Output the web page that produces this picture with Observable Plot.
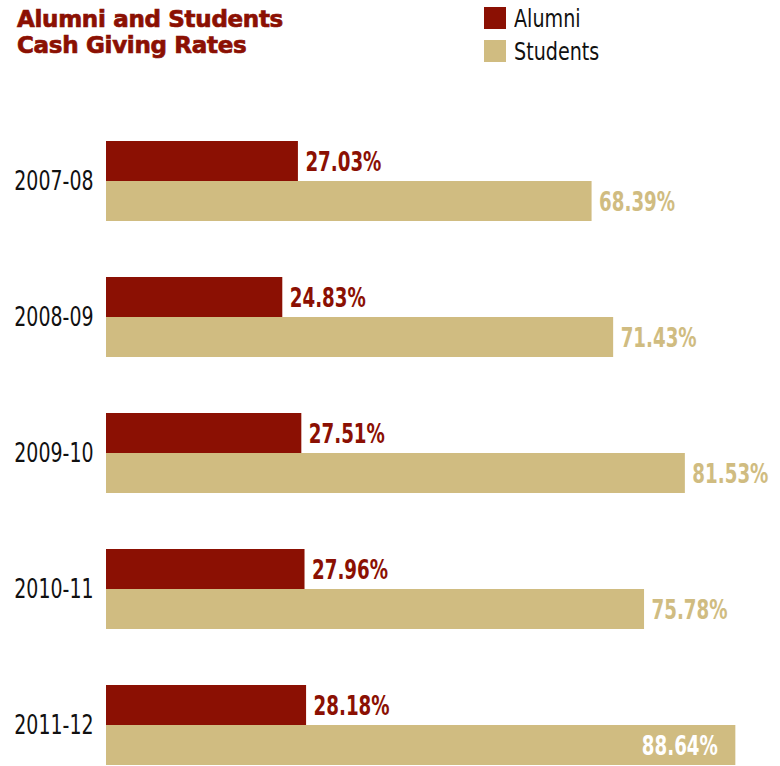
<!DOCTYPE html>
<html>
<head>
<meta charset="utf-8">
<script src="https://cdn.jsdelivr.net/npm/d3@7"></script>
<script src="https://cdn.jsdelivr.net/npm/@observablehq/plot@0.6"></script>
<style>
  body { margin: 0; background: #fff; }
  #wrap { position: relative; width: 780px; height: 766px; overflow: hidden; }
  #title { position: absolute; left: 17px; top: 6px; font-family: "DejaVu Sans", sans-serif; font-weight: bold; font-size: 23px; line-height: 26px; color: #8B1003; -webkit-text-stroke: 0.7px #8B1003; letter-spacing: -0.3px; }
  #legend { position: absolute; left: 484px; top: 7px; font-family: "DejaVu Sans Condensed", sans-serif; font-size: 25px; color: #111; }
  .item { display: flex; align-items: center; height: 22px; margin-bottom: 11px; }
  .sw { width: 22px; height: 22px; margin-right: 8px; flex: none; }
  .item span { display: inline-block; transform: scaleX(0.85); transform-origin: left center; }
  #chart { position: absolute; left: 0; top: 0; }
</style>
</head>
<body>
<div id="wrap">
  <div id="chart"></div>
  <div id="title">Alumni and Students<br>Cash Giving Rates</div>
  <div id="legend"></div>
</div>
<script>
const years = ["2007-08", "2008-09", "2009-10", "2010-11", "2011-12"];
const series = ["Alumni", "Students"];
const alumni = [27.03, 24.83, 27.51, 27.96, 28.18];
const students = [68.39, 71.43, 81.53, 75.78, 88.64];
const colors = ["#8B1003", "#D0BC81"];

const data = [];
years.forEach((y, i) => {
  data.push({year: y, series: "Alumni", value: alumni[i]});
  data.push({year: y, series: "Students", value: students[i]});
});

const labelColor = d => d.series === "Alumni" ? colors[0] : colors[1];
const inside = d => d.value > 85;
const fmt = d => d.value.toFixed(2) + "%";
const narrow = "DejaVu Sans Condensed, sans-serif";

const chart = Plot.plot({
  width: 780,
  height: 766,
  marginTop: 140,
  marginBottom: 0,
  marginLeft: 106,
  marginRight: 0,
  style: {fontFamily: narrow, background: "transparent"},
  x: {domain: [0, 100], range: [106, 106 + 710], axis: null},
  y: {domain: series, padding: 0, axis: null},
  fy: {domain: years, paddingInner: 0.414, paddingOuter: 0, label: null},
  color: {domain: series, range: colors},
  marks: [
    Plot.barX(data, {fy: "year", y: "series", x: "value", fill: "series"}),
    Plot.text(data.filter(d => !inside(d)), {
      fy: "year", y: "series", x: "value", text: fmt,
      textAnchor: "start", dx: 7, dy: 1, fill: labelColor,
      fontSize: 26, fontWeight: "bold"
    }),
    Plot.text(data.filter(inside), {
      fy: "year", y: "series", x: "value", text: fmt,
      textAnchor: "end", dx: -18, dy: 1, fill: "#fff",
      fontSize: 26, fontWeight: "bold"
    }),
    Plot.axisFy({anchor: "left", tickSize: 0, tickPadding: 13, fontSize: 27, label: null, color: "#111"})
  ]
});
document.getElementById("chart").appendChild(chart);

// condense the glyphs to mimic the narrow typeface of the reference
chart.querySelectorAll("text").forEach(t => {
  const L = t.getComputedTextLength();
  if (L > 0) {
    t.setAttribute("textLength", (L * 0.78).toFixed(1));
    t.setAttribute("lengthAdjust", "spacingAndGlyphs");
  }
});

const legend = document.getElementById("legend");
series.forEach((s, i) => {
  const row = document.createElement("div");
  row.className = "item";
  row.innerHTML = `<div class="sw" style="background:${colors[i]}"></div><span>${s}</span>`;
  legend.appendChild(row);
});
</script>
</body>
</html>
